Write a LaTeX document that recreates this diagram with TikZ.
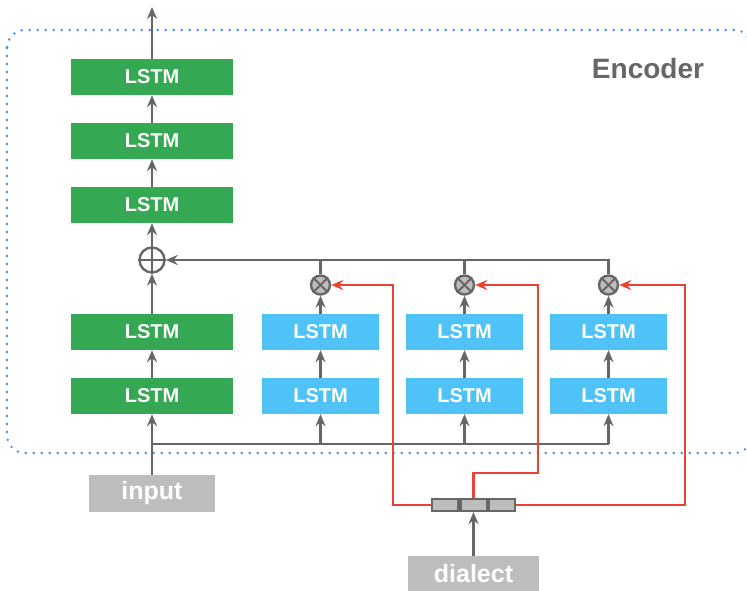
\documentclass[tikz,border=0pt]{standalone}
\usepackage{fontspec}
\setmainfont{Liberation Sans}
\usetikzlibrary{arrows.meta,calc}
\definecolor{lgreen}{HTML}{34A853}
\definecolor{lblue}{HTML}{4FC3F7}
\definecolor{boxgray}{HTML}{BDBDBD}
\definecolor{linegray}{HTML}{666666}
\definecolor{lred}{HTML}{EA4335}
\definecolor{dotblue}{HTML}{4285F4}
\begin{document}
\begin{tikzpicture}[x=1pt,y=-1pt,
  lstmG/.style={fill=lgreen,minimum width=162pt,minimum height=36pt,inner sep=0pt,text=white,font=\bfseries\fontsize{20}{20}\selectfont},
  lstmB/.style={fill=lblue,minimum width=117pt,minimum height=36pt,inner sep=0pt,text=white,font=\bfseries\fontsize{20}{20}\selectfont},
  gbox/.style={fill=boxgray,inner sep=0pt,text=white,font=\bfseries\fontsize{25}{25}\selectfont},
  conn/.style={draw=linegray,line width=2.4pt},
  arr/.style={conn,-{Stealth[length=12pt,width=10pt,inset=4pt]}},
  redarr/.style={draw=lred,line width=2.4pt,-{Stealth[length=12pt,width=10pt,inset=4pt]}},
  plusnode/.style={circle,draw=linegray,line width=2.4pt,fill=white,minimum size=25pt,inner sep=0pt},
  timesnode/.style={circle,draw=linegray,line width=2.4pt,fill=boxgray,minimum size=19pt,inner sep=0pt},
  cell/.style={draw=linegray,line width=2.2pt,fill=boxgray,minimum width=26.2pt,minimum height=12pt,inner sep=0pt}
]
\useasboundingbox (0,0) rectangle (747,591);
% encoder frame
\draw[dotblue,line width=2.6pt,line cap=round,dash pattern=on 0pt off 8pt,rounded corners=18pt] (7,30) rectangle (752,453);
\node[text=linegray,font=\bfseries\fontsize{28}{28}\selectfont] (enc) at (648,68) {Encoder};

% green stack
\node[lstmG] (g1) at (152,77) {LSTM};
\node[lstmG] (g2) at (152,141) {LSTM};
\node[lstmG] (g3) at (152,205) {LSTM};
\node[lstmG] (g4) at (152,332) {LSTM};
\node[lstmG] (g5) at (152,396) {LSTM};
\node[plusnode] (plus) at (152,260) {};
\draw[linegray,line width=2pt] (plus.north) -- (plus.south) (plus.west) -- (plus.east);

% blue columns
\foreach \i/\x in {1/320.5,2/464.5,3/608.5}{
  \node[lstmB] (b\i a) at (\x,332) {LSTM};
  \node[lstmB] (b\i b) at (\x,396) {LSTM};
  \node[timesnode] (m\i) at (\x,285) {};
  \draw[linegray,line width=1.8pt] (m\i.north west) -- (m\i.south east) (m\i.north east) -- (m\i.south west);
}

% input and dialect
\node[gbox,minimum width=126pt,minimum height=37pt] (input) at (152,493.5) {input};
\node[gbox,minimum width=131pt,minimum height=36pt] (dialect) at (473.5,574) {dialect};
\node[cell] (e1) at (445.1,505) {};
\node[cell] (e2) at (473.5,505) {};
\node[cell] (e3) at (501.9,505) {};

% green connections
\coordinate (out) at (152,7);
\draw[arr] (g1.north) -- (out);
\draw[arr] (g2) -- (g1);
\draw[arr] (g3) -- (g2);
\draw[arr] (plus) -- (g3);
\draw[arr] (g4) -- (plus);
\draw[arr] (g5) -- (g4);
\draw[arr] (input) -- (g5);

% bottom bus
\coordinate (busL) at (152,444);
\coordinate (busR) at (608.5,444);
\draw[conn] (busL) -- (busR);
\foreach \i in {1,2,3}{
  \draw[arr] (b\i b.south |- busL) -- (b\i b);
  \draw[arr] (b\i b) -- (b\i a);
  \draw[arr] (b\i a) -- (m\i);
}
% top bus
\draw[arr] (m3.north) -- (m3.north |- plus) -- (plus.east);
\draw[conn] (m1.north) -- (m1.north |- plus);
\draw[conn] (m2.north) -- (m2.north |- plus);

% dialect connections
\draw[arr] (dialect.north) -- (e2.south);
\coordinate (r1) at (393,505);
\draw[redarr] (e1.west) -- (r1) |- (m1.east);
\coordinate (r2a) at (473.5,473);
\coordinate (r2b) at (538,285);
\draw[redarr] (e2.north) -- (r2a) -| (r2b) -- (m2.east);
\coordinate (r3) at (685,505);
\draw[redarr] (e3.east) -- (r3) |- (m3.east);
\end{tikzpicture}
\end{document}
